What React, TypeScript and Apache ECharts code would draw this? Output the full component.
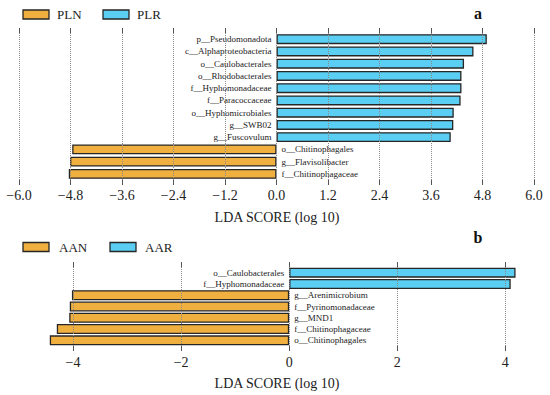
import React, { useEffect, useRef } from "react";
import * as echarts from "echarts";

const catsA = [
  "p__Pseudomonadota",
  "c__Alphaproteobacteria",
  "o__Caulobacterales",
  "o__Rhodobacterales",
  "f__Hyphomonadaceae",
  "f__Paracoccaceae",
  "o__Hyphomicrobiales",
  "g__SWB02",
  "g__Fuscovulum",
  "o__Chitinophagales",
  "g__Flavisolibacter",
  "f__Chitinophagaceae",
];
const valsA = [4.9, 4.59, 4.37, 4.31, 4.31, 4.29, 4.13, 4.12, 4.06, -4.76, -4.81, -4.84];
const ticksA = [-6, -4.8, -3.6, -2.4, -1.2, 0, 1.2, 2.4, 3.6, 4.8, 6];

const catsB = [
  "o__Caulobacterales",
  "f__Hyphomonadaceae",
  "g__Arenimicrobium",
  "f__Pyrinomonadaceae",
  "g__MND1",
  "f__Chitinophagaceae",
  "o__Chitinophagales",
];
const valsB = [4.19, 4.1, -4.02, -4.06, -4.07, -4.3, -4.43];
const ticksB = [-4, -2, 0, 2, 4];

const groupsA = ["PLN", "PLR"];
const groupsB = ["AAN", "AAR"];

const ORANGE = "#F0B040";
const BLUE = "#5ACFF3";
const BORDER = "#262626";
const FONT = "'Liberation Serif', 'Times New Roman', 'DejaVu Serif', serif";

export default function App() {
  const ref = useRef<HTMLDivElement>(null);
  useEffect(() => {
    const chart = echarts.init(ref.current!, null, { renderer: "svg" });
    const fmtA = (v: number) => (Math.abs(v) < 1e-9 ? "0.0" : v.toFixed(1)).replace("-", "\u2212");
    const fmtB = (v: number) => String(Math.round(v)).replace("-", "\u2212");
    const tick = { show: true, inside: false, length: 5, lineStyle: { color: "#555", width: 1 } };
    const labelBase = { fontFamily: FONT, fontSize: 14, color: "#222" };
    const barLabel = (pos: string) => ({
      show: true,
      position: pos,
      distance: 5,
      formatter: (p: any) => p.name,
      fontFamily: FONT,
      fontSize: 9,
      color: "#222",
    });
    const mk = (name: string, vals: number[], pos: boolean, color: string, ax: number, stack: string) => ({
      name,
      type: "bar",
      xAxisIndex: ax,
      yAxisIndex: ax === 0 ? 0 : 1,
      stack,
      barWidth: 10,
      data: vals.map((v) => (pos ? (v > 0 ? v : "-") : v < 0 ? v : "-")),
      itemStyle: { color, borderColor: BORDER, borderWidth: 1.3 },
      label: barLabel(pos ? "left" : "right"),
    });
    const gridLines = (ticks: number[], ax: number) => ({
      type: "line",
      xAxisIndex: ax,
      yAxisIndex: ax === 0 ? 0 : 1,
      data: [],
      silent: true,
      z: 5,
      markLine: {
        silent: true,
        symbol: "none",
        label: { show: false },
        lineStyle: { type: "dotted", color: "#8a8a8a", width: 1 },
        data: ticks.map((t) => ({ xAxis: t })),
      },
    });
    const legItem = (name: string, color: string, x: number, cy: number, textX: number) => [
      {
        type: "rect",
        shape: { x, y: cy - 4.5, width: 26, height: 9 },
        style: { fill: color, stroke: BORDER, lineWidth: 1.3 },
      },
      {
        type: "text",
        x: textX,
        y: cy,
        style: { text: name, fontFamily: FONT, fontSize: 13, fill: "#222", align: "left", verticalAlign: "middle" },
      },
    ];
    chart.setOption({
      animation: false,
      textStyle: { fontFamily: FONT },
      grid: [
        { left: 19, width: 515, top: 33, height: 147 },
        { left: 46, width: 475.5, top: 267, height: 79 },
      ],
      xAxis: [
        {
          gridIndex: 0,
          type: "value",
          min: -6,
          max: 6,
          interval: 1.2,
          position: "bottom",
          axisLine: { show: false },
          axisTick: tick,
          splitLine: { show: false },
          axisLabel: { ...labelBase, margin: 8, formatter: fmtA },
        },
        {
          gridIndex: 0,
          type: "value",
          min: -6,
          max: 6,
          interval: 1.2,
          position: "top",
          axisLine: { show: false },
          axisTick: tick,
          splitLine: { show: false },
          axisLabel: { show: false },
        },
        {
          gridIndex: 1,
          type: "value",
          min: -4.5,
          max: 4.3,
          position: "bottom",
          axisLine: { show: false },
          axisTick: { ...tick, customValues: ticksB },
          splitLine: { show: false },
          axisLabel: { ...labelBase, margin: 9, formatter: fmtB, customValues: ticksB },
        },
        {
          gridIndex: 1,
          type: "value",
          min: -4.5,
          max: 4.3,
          position: "top",
          axisLine: { show: false },
          axisTick: { ...tick, customValues: ticksB },
          splitLine: { show: false },
          axisLabel: { show: false, customValues: ticksB },
        },
      ],
      yAxis: [
        { gridIndex: 0, type: "category", data: catsA, inverse: true, show: false },
        { gridIndex: 1, type: "category", data: catsB, inverse: true, show: false },
      ],
      series: [
        mk(groupsA[0], valsA, false, ORANGE, 0, "a"),
        mk(groupsA[1], valsA, true, BLUE, 0, "a"),
        mk(groupsB[0], valsB, false, ORANGE, 2, "b"),
        mk(groupsB[1], valsB, true, BLUE, 2, "b"),
        gridLines(ticksA, 0),
        gridLines(ticksB, 2),
      ],
      graphic: [
        ...legItem(groupsA[0], ORANGE, 23, 14.5, 57),
        ...legItem(groupsA[1], BLUE, 103, 14.5, 137),
        ...legItem(groupsB[0], ORANGE, 23, 247, 59),
        ...legItem(groupsB[1], BLUE, 110, 247, 145),
        {
          type: "text",
          x: 277,
          y: 217,
          style: { text: "LDA SCORE (log 10)", fontFamily: FONT, fontSize: 14, fill: "#222", align: "center", verticalAlign: "middle" },
        },
        {
          type: "text",
          x: 277,
          y: 383,
          style: { text: "LDA SCORE (log 10)", fontFamily: FONT, fontSize: 14, fill: "#222", align: "center", verticalAlign: "middle" },
        },
        {
          type: "text",
          x: 478,
          y: 13,
          style: { text: "a", fontFamily: FONT, fontSize: 16, fontWeight: "bold", fill: "#111", align: "center", verticalAlign: "middle" },
        },
        {
          type: "text",
          x: 478,
          y: 237,
          style: { text: "b", fontFamily: FONT, fontSize: 16, fontWeight: "bold", fill: "#111", align: "center", verticalAlign: "middle" },
        },
      ],
    });
    return () => chart.dispose();
  }, []);
  return <div ref={ref} style={{ position: "fixed", left: 0, top: 0, width: 550, height: 395, background: "#fff" }} />;
}
